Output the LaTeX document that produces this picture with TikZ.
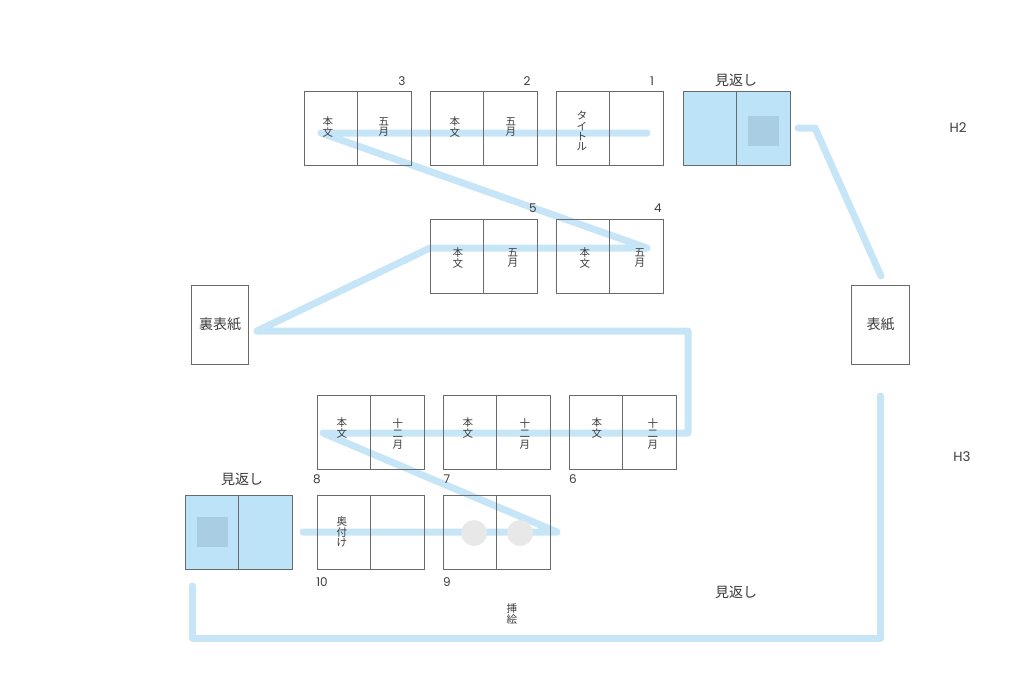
\documentclass[tikz,border=0pt]{standalone}
\usepackage{fontspec}
\setmainfont{Noto Sans CJK JP}
\newfontfamily\latinf{Poppins}
\definecolor{routeblue}{HTML}{C6E6F7}
\definecolor{mikaeshi}{HTML}{BDE3F8}
\definecolor{innersq}{HTML}{A9CEE4}
\definecolor{pagegray}{HTML}{6A6A6A}
\definecolor{textgray}{HTML}{3C3C3C}
\definecolor{circgray}{HTML}{E8E8E8}
\begin{document}
\begin{tikzpicture}[x=0.75pt,y=-0.75pt,
  page/.style={draw=pagegray, line width=0.7pt, minimum width=40.1pt, minimum height=55.5pt, inner sep=0pt},
  pagefill/.style={page, fill=mikaeshi},
  cover/.style={draw=pagegray, line width=0.7pt, minimum width=43pt, minimum height=59.2pt, inner sep=0pt, font=\fontsize{10.5}{12}\selectfont, text=textgray},
  vtext/.style={font=\fontsize{7.9}{7.7}\selectfont, align=center, inner sep=0pt, text=textgray},
  lbl/.style={font=\fontsize{10.5}{12}\selectfont, text=textgray, inner sep=0pt},
  num/.style={font=\latinf\fontsize{9}{10}\selectfont, text=textgray, inner sep=0pt},
  hlbl/.style={font=\latinf\fontsize{10}{11}\selectfont, text=textgray, inner sep=0pt},
  route/.style={draw=routeblue, line width=5.25pt, line cap=round, line join=round},
  sq/.style={fill=innersq, draw=none, minimum width=23.3pt, minimum height=22.5pt, inner sep=0pt},
  dot/.style={circle, fill=circgray, draw=none, minimum size=19.5pt, inner sep=0pt}
]
\useasboundingbox (0,0) rectangle (1024,674);
% route coordinates
\coordinate (a1) at (647,133);
\coordinate (a2) at (321,133);
\coordinate (a3) at (647,248);
\coordinate (a4) at (430,248);
\coordinate (a5) at (257,331);
\coordinate (a6) at (688,331);
\coordinate (a7) at (688,433);
\coordinate (a8) at (323,433);
\coordinate (a9) at (557,532);
\coordinate (a10) at (303,532);
\coordinate (b1) at (798,128);
\coordinate (b2) at (815,128);
\coordinate (b3) at (881,276);
\coordinate (c1) at (880,396);
\coordinate (c2) at (880,638);
\coordinate (c3) at (192,638);
\coordinate (c4) at (192,586);
% routes
\draw[route] (a1) -- (a2) -- (a3) -- (a4) -- (a5) -- (a6) -- (a7) -- (a8) -- (a9) -- (a10);
\draw[route] (b1) -- (b2) -- (b3);
\draw[route] (c1) -- (c2) -- (c3) -- (c4);
% row 1
\node[page] (s3l) at (331,128) {};
\node[page] (s3r) at (384.5,128) {};
\node[page] (s2l) at (457,128) {};
\node[page] (s2r) at (510.5,128) {};
\node[page] (s1l) at (583,128) {};
\node[page] (s1r) at (636.5,128) {};
\node[pagefill] (mtl) at (710,128) {};
\node[pagefill] (mtr) at (763.5,128) {};
\node[sq] (mtsq) at (763.5,131) {};
% row 2
\node[page] (s5l) at (457,256) {};
\node[page] (s5r) at (510.5,256) {};
\node[page] (s4l) at (583,256) {};
\node[page] (s4r) at (636.5,256) {};
% covers
\node[cover] (ura) at (220,324.5) {裏表紙};
\node[cover] (omote) at (880.5,324.5) {表紙};
% row 3
\node[page] (s8l) at (344,432) {};
\node[page] (s8r) at (397.5,432) {};
\node[page] (s7l) at (470,432) {};
\node[page] (s7r) at (523.5,432) {};
\node[page] (s6l) at (596,432) {};
\node[page] (s6r) at (649.5,432) {};
% row 4
\node[pagefill] (mbl) at (212,532) {};
\node[pagefill] (mbr) at (265.5,532) {};
\node[sq] (mbsq) at (212.5,532) {};
\node[page] (s10l) at (344,532) {};
\node[page] (s10r) at (397.5,532) {};
\node[page] (s9l) at (470,532) {};
\node[page] (s9r) at (523.5,532) {};
\node[dot] (d1) at (474,533) {};
\node[dot] (d2) at (520,533) {};
% vertical texts
\node[vtext] (t3l) at (328,127) {本\\文};
\node[vtext] (t3r) at (384,127) {五\\月};
\node[vtext] (t2l) at (455,127) {本\\文};
\node[vtext] (t2r) at (511,127) {五\\月};
\node[vtext] (t1l) at (582,131) {タ\\イ\\ト\\ル};
\node[vtext] (t5l) at (458,258) {本\\文};
\node[vtext] (t5r) at (513,258) {五\\月};
\node[vtext] (t4l) at (585,258) {本\\文};
\node[vtext] (t4r) at (640,258) {五\\月};
\node[vtext] (t8l) at (342,428) {本\\文};
\node[vtext] (t8r) at (398,434) {十\\二\\月};
\node[vtext] (t7l) at (468,428) {本\\文};
\node[vtext] (t7r) at (525,434) {十\\二\\月};
\node[vtext] (t6l) at (597,428) {本\\文};
\node[vtext] (t6r) at (653,434) {十\\二\\月};
\node[vtext] (t10l) at (342,532) {奥\\付\\け};
\node[vtext] (sashie) at (512,614) {挿\\絵};
% numbers
\node[num] (n3) at (402,81) {3};
\node[num] (n2) at (527,81) {2};
\node[num] (n1) at (652,81) {1};
\node[num] (n5) at (533,208) {5};
\node[num] (n4) at (658,208) {4};
\node[num] (n8) at (317,479) {8};
\node[num] (n7) at (447,479) {7};
\node[num] (n6) at (573,479) {6};
\node[num] (n10) at (322,582) {10};
\node[num] (n9) at (447,582) {9};
% labels
\node[lbl] (lmt) at (736,80) {見返し};
\node[lbl] (lmb) at (242,479) {見返し};
\node[lbl] (lmr) at (736,592) {見返し};
\node[hlbl] (h2) at (958,128) {H2};
\node[hlbl] (h3) at (962,457) {H3};
\end{tikzpicture}
\end{document}
